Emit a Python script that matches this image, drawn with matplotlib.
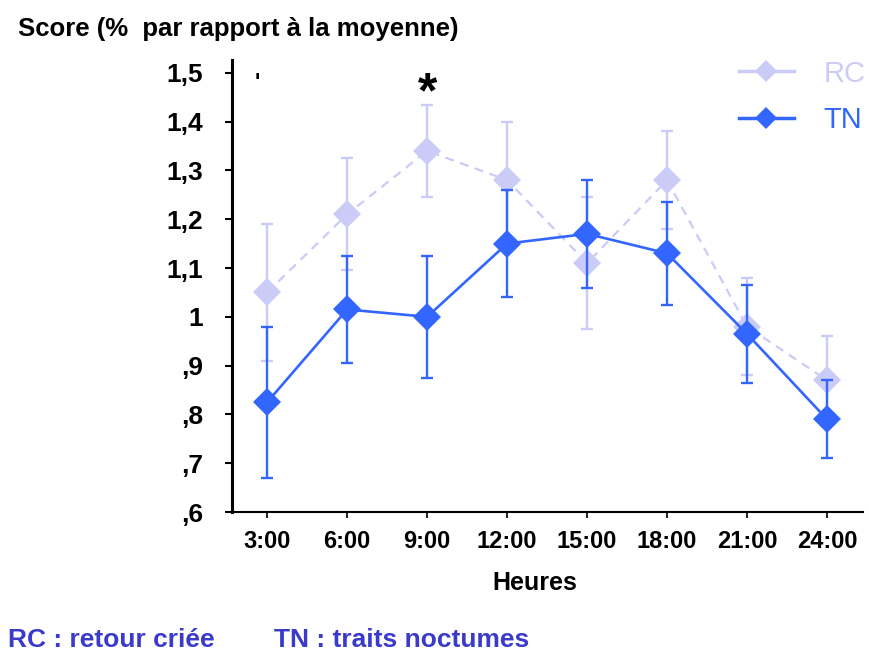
import numpy as np
import matplotlib.pyplot as plt
from matplotlib.lines import Line2D

# -------------------- data --------------------
heures = ["3:00", "6:00", "9:00", "12:00", "15:00", "18:00", "21:00", "24:00"]

rc_score = [1.05, 1.21, 1.34, 1.28, 1.11, 1.28, 0.98, 0.87]      # retour criée
rc_err   = [0.14, 0.115, 0.095, 0.12, 0.135, 0.10, 0.10, 0.09]

tn_score = [0.825, 1.015, 1.00, 1.15, 1.17, 1.13, 0.965, 0.79]   # traits nocturnes
tn_err   = [0.155, 0.11, 0.125, 0.11, 0.11, 0.105, 0.10, 0.08]

y_ticks      = [0.6, 0.7, 0.8, 0.9, 1.0, 1.1, 1.2, 1.3, 1.4, 1.5]
y_ticklabels = [",6", ",7", ",8", ",9", "1", "1,1", "1,2", "1,3", "1,4", "1,5"]

# -------------------- style --------------------
RC_COL  = "#cbcbf7"
TN_COL  = "#3366ff"
NOTE_COL = "#3a3acb"
FONT = ["Liberation Sans", "DejaVu Sans"]

plt.rcParams["font.family"] = FONT

W, H = 869, 653
fig = plt.figure(figsize=(W / 100, H / 100), dpi=100)
ax = fig.add_axes([232 / W, (H - 512) / H, (863 - 232) / W, (512 - 60) / H])

x = np.arange(len(heures))

# RC (light, dashed)
ax.errorbar(x, rc_score, yerr=rc_err, fmt="none", ecolor=RC_COL,
            elinewidth=1.7, capsize=4, capthick=1.7, zorder=2)
ax.plot(x, rc_score, color=RC_COL, linestyle=(0, (4, 3)), linewidth=1.6,
        marker="D", markersize=14, markeredgewidth=0, zorder=3)

# TN (blue, solid)
ax.errorbar(x, tn_score, yerr=tn_err, fmt="none", ecolor=TN_COL,
            elinewidth=1.7, capsize=4, capthick=1.7, zorder=4)
ax.plot(x, tn_score, color=TN_COL, linewidth=1.9,
        marker="D", markersize=14, markeredgewidth=0, zorder=5)

# significance marks
ax.text(2, 1.455, "*", fontsize=36, fontweight="bold", ha="center", va="center")
ax.text(-0.12, 1.48, "'", fontsize=16, fontweight="bold", ha="center", va="center")

ax.set_xlim(-0.44, 7.45)
ax.set_ylim(0.6, 0.6 + 452 / 488)
ax.set_xticks(x)
ax.set_xticklabels(heures, fontsize=17, fontweight="bold")
ax.set_yticks(y_ticks)
ax.set_yticklabels(y_ticklabels, fontsize=19, fontweight="bold")
ax.tick_params(axis="y", direction="out", length=5, width=1.5, pad=16)
ax.tick_params(axis="x", direction="out", length=4, width=1.2, pad=9)
ax.set_xlabel("Heures", fontsize=18, fontweight="bold", labelpad=13,
              x=(535 - 232) / (863 - 232))

for s in ("top", "right"):
    ax.spines[s].set_visible(False)
ax.spines["left"].set_linewidth(2.2)
ax.spines["bottom"].set_linewidth(1.5)

# legend (top right, text coloured like the lines)
handles = [
    Line2D([], [], color=RC_COL, linewidth=2.5, marker="D", markersize=11, markeredgewidth=0),
    Line2D([], [], color=TN_COL, linewidth=2.5, marker="D", markersize=11, markeredgewidth=0),
]
fig.legend(handles, ["RC", "TN"], loc="center left",
           bbox_to_anchor=(724 / W, 1 - 97 / H), frameon=False, fontsize=21,
           handlelength=1.9, handletextpad=1.0, labelspacing=0.65,
           borderpad=0, labelcolor="linecolor")

fig.text(18 / W, 1 - 29 / H, "Score (%  par rapport à la moyenne)",
         fontsize=18.5, fontweight="bold", ha="left", va="center")
fig.text(8 / W, 1 - 640 / H, "RC : retour criée", color=NOTE_COL,
         fontsize=19, fontweight="bold", ha="left", va="center")
fig.text(274 / W, 1 - 640 / H, "TN : traits noctumes", color=NOTE_COL,
         fontsize=19, fontweight="bold", ha="left", va="center")

fig.savefig("out.png", dpi=100)
